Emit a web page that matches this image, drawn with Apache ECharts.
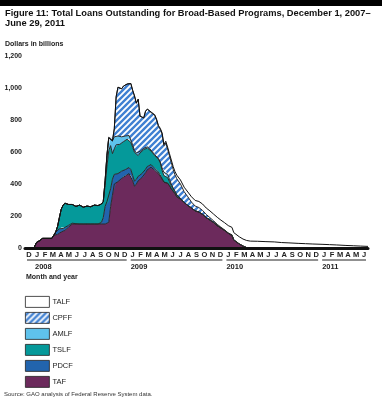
<!DOCTYPE html>
<html><head><meta charset="utf-8">
<script src="https://cdn.jsdelivr.net/npm/echarts@6/dist/echarts.min.js"></script>
<style>html,body{margin:0;padding:0;background:#fff}#c{width:382px;height:400px}</style>
</head><body><div id="c"></div>
<script>
const dates = ['2007-12-01','2008-01-04','2008-01-14','2008-01-25','2008-02-06','2008-03-12','2008-03-20','2008-03-27','2008-04-03','2008-04-10',
'2008-04-17','2008-04-24','2008-05-01','2008-05-15','2008-05-29','2008-06-12','2008-06-26','2008-07-10','2008-07-24','2008-08-07',
'2008-08-21','2008-09-04','2008-09-10','2008-09-17','2008-09-24','2008-10-01','2008-10-08','2008-10-15','2008-10-22','2008-10-29',
'2008-11-05','2008-11-12','2008-11-19','2008-11-26','2008-12-03','2008-12-10','2008-12-17','2008-12-24','2008-12-31','2009-01-07',
'2009-01-14','2009-01-21','2009-01-28','2009-02-04','2009-02-11','2009-02-18','2009-02-25','2009-03-04','2009-03-11','2009-03-18',
'2009-03-25','2009-04-01','2009-04-08','2009-04-15','2009-04-22','2009-04-29','2009-05-06','2009-05-13','2009-05-20','2009-05-27',
'2009-06-03','2009-06-10','2009-06-17','2009-06-24','2009-07-01','2009-07-15','2009-07-29','2009-08-12','2009-08-26','2009-09-09',
'2009-09-23','2009-10-07','2009-10-21','2009-11-04','2009-11-18','2009-12-02','2009-12-16','2009-12-30','2010-01-13','2010-01-27',
'2010-02-03','2010-02-10','2010-02-24','2010-03-10','2010-03-24','2010-04-07','2010-05-05','2010-06-02','2010-07-07','2010-08-04',
'2010-09-01','2010-10-06','2010-11-03','2010-12-01','2011-01-05','2011-02-02','2011-03-02','2011-04-06','2011-05-04','2011-06-01',
'2011-06-29'];

const taf = [0,0,35,45,60, 60,80,80,85,90, 100,100,110,130,150, 150,150,150,150,150,
150,150,150,150,150, 150,150,160,260,330, 400,410,415,420,435, 445,450,460,465,455,
420,385,400,420,432, 440,445,470,490,500, 505,495,485,478,465, 455,430,410,415,405,
390,370,355,340,320, 305,285,265,250,232, 225,210,190,175,160, 140,125,110,92,78,
50,40,25,12,2, 0,0,0,0,0, 0,0,0,0,0, 0,0,0,0,0, 0];

const pdcf = [0,0,0,0,0, 0,0,20,25,30, 28,22,18,12,5, 2,0,0,0,0,
0,0,0,10,40, 110,140,130,110,100, 60,55,50,48,45, 42,40,40,38,35,
33,32,30,28,27, 25,25,22,20,18, 16,15,13,12,10, 8,5,3,2,0,
0,0,0,0,0, 0,0,0,0,0, 0,0,0,0,0, 0,0,0,0,0,
0,0,0,0,0, 0,0,0,0,0, 0,0,0,0,0, 0,0,0,0,0, 0];

const tslf = [0,0,0,0,0, 0,0,0,25,70, 115,145,152,130,117, 108,118,105,112,108,
118,115,120,115,100, 130,220,320,270,160, 160,180,180,180,175, 178,185,180,180,170,
177,180,155,130,135, 140,145,130,115,100, 85,85,80,80,80, 70,50,40,40,35,
25,20,15,12,10, 5,0,0,0,0, 0,0,0,0,0, 0,0,0,0,0,
0,0,0,0,0, 0,0,0,0,0, 0,0,0,0,0, 0,0,0,0,0, 0];

const amlf = [0,0,0,0,0, 0,0,0,0,0, 0,0,0,0,0, 0,0,0,0,0,
0,0,0,0,0, 30,70,80,60,80, 75,60,55,50,40, 32,25,22,20,15,
15,12,10,10,10, 8,8,8,7,7, 6,6,5,5,5, 5,15,20,25,20,
15,10,5,4,3, 0,0,0,0,0, 0,0,0,0,0, 0,0,0,0,0,
0,0,0,0,0, 0,0,0,0,0, 0,0,0,0,0, 0,0,0,0,0, 0];

const cpff = [0,0,0,0,0, 0,0,0,0,0, 0,0,0,0,0, 0,0,0,0,0,
0,0,0,0,0, 0,0,0,0,0, 50,240,305,317,300, 315,318,323,325,353,
340,341,310,342,220, 200,190,225,236,245, 235,238,245,225,200, 204,212,166,175,158,
146,134,117,102,100, 90,67,55,37,30, 28,25,20,15,10, 8,5,3,2,5,
0,0,0,0,0, 0,0,0,0,0, 0,0,0,0,0, 0,0,0,0,0, 0];

const talf = [0,0,0,0,0, 0,0,0,0,0, 0,0,0,0,0, 0,0,0,0,0,
0,0,0,0,0, 0,0,0,0,0, 0,0,0,0,0, 0,0,0,0,0,
0,0,0,0,0, 0,0,0,0,0, 3,4,5,5,6, 6,8,9,10,12,
14,16,18,20,22, 25,28,30,33,35, 38,40,40,42,42, 44,44,45,46,46,
46,45,45,44,45, 43,42,40,38,34, 32,29,27,25,23, 21,19,16,14,12, 10];

const monthLabels = ['D',
 'J','F','M','A','M','J','J','A','S','O','N','D',
 'J','F','M','A','M','J','J','A','S','O','N','D',
 'J','F','M','A','M','J','J','A','S','O','N','D',
 'J','F','M','A','M','J'];
const yearLabels = ['2008','2009','2010','2011'];
const yearSpanStart = [0,13,25,37];
const yearSpanEnd = [13,25,37,43];
const yearTextAt = [1,13,25,37];

const FONT = '"Liberation Sans", Arial, Helvetica, sans-serif';
const C_TAF = '#6c2a5c', C_PDCF = '#2264ad', C_TSLF = '#05999a', C_AMLF = '#5fc2ec', C_CPFF_BG = '#3f80d2';

function hatch() {
  const c = document.createElement('canvas');
  c.width = 6; c.height = 6;
  const g = c.getContext('2d');
  g.fillStyle = C_CPFF_BG; g.fillRect(0, 0, 6, 6);
  g.strokeStyle = '#ffffff'; g.lineWidth = 1.9;
  g.beginPath();
  g.moveTo(-1, 7); g.lineTo(7, -1);
  g.moveTo(-1, 1); g.lineTo(1, -1);
  g.moveTo(5, 7); g.lineTo(7, 5);
  g.stroke();
  return c;
}
const pattern = { image: hatch(), repeat: 'repeat' };

function mk(name, vals, color, lineColor) {
  return {
    name, type: 'line', stack: 'total', xAxisIndex: 0, yAxisIndex: 0,
    data: dates.map((d, i) => [d, vals[i]]),
    showSymbol: false, symbol: 'none', smooth: false,
    lineStyle: { color: lineColor || '#2a2a2a', width: 1 },
    itemStyle: { color: color },
    areaStyle: { color: color, opacity: 1 },
    emphasis: { disabled: true }, silent: true
  };
}

const chart = echarts.init(document.getElementById('c'), null, { renderer: 'canvas' });
chart.setOption({
  animation: false,
  backgroundColor: '#ffffff',
  textStyle: { fontFamily: FONT },
  graphic: [{ type: 'rect', shape: { x: 0, y: 0, width: 382, height: 6 }, style: { fill: '#000' } }],
  title: [
    { text: 'Figure 11: Total Loans Outstanding for Broad-Based Programs, December 1, 2007–\nJune 29, 2011',
      left: 5, top: 9, padding: 0,
      textStyle: { fontFamily: FONT, fontSize: 9.3, fontWeight: 'bold', color: '#111', lineHeight: 9.5 } },
    { text: 'Dollars in billions', left: 5, top: 41, padding: 0,
      textStyle: { fontFamily: FONT, fontSize: 7, fontWeight: 'bold', color: '#222' } },
    { text: 'Month and year', left: 26, top: 274, padding: 0,
      textStyle: { fontFamily: FONT, fontSize: 7, fontWeight: 'bold', color: '#222' } },
    { text: 'Source: GAO analysis of Federal Reserve System data.', left: 4, top: 391, padding: 0,
      textStyle: { fontFamily: FONT, fontSize: 6, fontWeight: 'normal', color: '#333' } }
  ],
  legend: {
    orient: 'vertical', left: 25, top: 296, padding: 0,
    itemWidth: 24, itemHeight: 11, itemGap: 4.2, icon: 'rect', selectedMode: false,
    textStyle: { fontFamily: FONT, fontSize: 7.5, color: '#222', padding: [0, 0, 0, -2] },
    data: [
      { name: 'TALF', itemStyle: { color: '#ffffff', borderColor: '#222', borderWidth: 0.8 } },
      { name: 'CPFF', itemStyle: { color: pattern, borderColor: '#222', borderWidth: 0.8 } },
      { name: 'AMLF', itemStyle: { color: C_AMLF, borderColor: '#222', borderWidth: 0.8 } },
      { name: 'TSLF', itemStyle: { color: C_TSLF, borderColor: '#222', borderWidth: 0.8 } },
      { name: 'PDCF', itemStyle: { color: C_PDCF, borderColor: '#222', borderWidth: 0.8 } },
      { name: 'TAF', itemStyle: { color: C_TAF, borderColor: '#222', borderWidth: 0.8 } }
    ]
  },
  grid: [
    { left: 25, right: 14, top: 56, bottom: 152, containLabel: false },
    { left: 25, right: 14, top: 258, height: 2, containLabel: false }
  ],
  xAxis: [
    { type: 'time', gridIndex: 0, min: '2007-12-01', max: '2011-06-29', position: 'bottom', z: 10,
      axisLine: { show: true, onZero: false, lineStyle: { color: '#111', width: 3 } },
      axisTick: { show: false }, axisLabel: { show: false }, splitLine: { show: false } },
    { type: 'category', gridIndex: 0, data: monthLabels, position: 'bottom', boundaryGap: true,
      axisLine: { show: false }, axisTick: { show: false }, splitLine: { show: false },
      axisLabel: { interval: 0, margin: 3, fontFamily: FONT, fontSize: 7.5, fontWeight: 'bold', color: '#222' } },
    { type: 'value', gridIndex: 1, min: 0, max: 43, show: false }
  ],
  yAxis: [
    { type: 'value', gridIndex: 0, min: 0, max: 1200, interval: 200,
      axisLine: { show: false }, axisTick: { show: false }, splitLine: { show: false },
      axisLabel: { margin: 3, fontFamily: FONT, fontSize: 7, fontWeight: 'bold', color: '#222',
        formatter: v => v.toLocaleString('en-US') } },
    { type: 'value', gridIndex: 1, min: 0, max: 1, show: false }
  ],
  series: [
    mk('TAF', taf, C_TAF),
    mk('PDCF', pdcf, C_PDCF),
    mk('TSLF', tslf, C_TSLF),
    mk('AMLF', amlf, C_AMLF),
    mk('CPFF', cpff, pattern),
    mk('TALF', talf, '#ffffff', '#111'),
    {
      type: 'custom', xAxisIndex: 2, yAxisIndex: 1, silent: true, clip: false,
      data: yearLabels.map((y, i) => [yearSpanStart[i], yearSpanEnd[i], yearTextAt[i]]),
      encode: { x: [0, 1, 2] },
      renderItem: function (params, api) {
        const a = api.coord([api.value(0), 0]);
        const b = api.coord([api.value(1), 0]);
        const t = api.coord([api.value(2), 0]);
        return { type: 'group', children: [
          { type: 'line', shape: { x1: a[0] + 2, y1: a[1], x2: b[0] - 2, y2: a[1] },
            style: { stroke: '#222', lineWidth: 1 } },
          { type: 'text', style: { text: yearLabels[params.dataIndex], x: t[0] + 2, y: a[1] + 3,
            font: 'bold 7.5px ' + FONT, fill: '#222', verticalAlign: 'top', align: 'left' } }
        ] };
      }
    }
  ]
});
</script>
</body></html>
